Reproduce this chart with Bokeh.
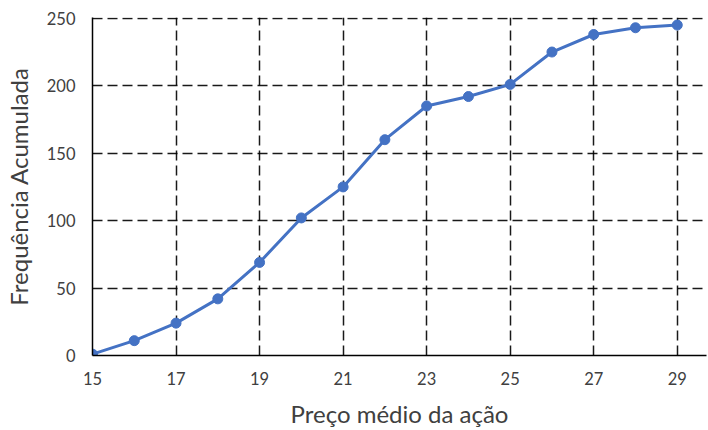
from bokeh.plotting import figure
from bokeh.models import Range1d, FixedTicker
from bokeh.embed import file_html
from bokeh.resources import INLINE

# Preço médio da ação vs. frequência acumulada
precos = [15, 16, 17, 18, 19, 20, 21, 22, 23, 24, 25, 26, 27, 28, 29]
freq_acumulada = [1, 11, 24, 42, 69, 102, 125, 160, 185, 192, 201, 225, 238, 243, 245]
x_ticks = [15, 17, 19, 21, 23, 25, 27, 29]
y_ticks = [0, 50, 100, 150, 200, 250]

FONT = "Lato"
TEXT = "#404040"
BLUE = "#4472C4"

# small headroom so the dashed gridline at 250 is not clipped by the frame
p = figure(width=708, height=430, output_backend="svg", toolbar_location=None,
           x_range=Range1d(15, 29.7), y_range=Range1d(0, 250.6),
           min_border_left=92, min_border_right=2, min_border_top=17, min_border_bottom=75)
p.outline_line_color = None

p.line(precos, freq_acumulada, line_color=BLUE, line_width=3)
p.scatter(precos, freq_acumulada, size=10, fill_color=BLUE, line_color=BLUE)

p.xaxis.ticker = FixedTicker(ticks=x_ticks)
p.yaxis.ticker = FixedTicker(ticks=y_ticks)

for ax in (p.xaxis[0], p.yaxis[0]):
    ax.axis_line_color = "black"
    ax.axis_line_width = 1.5
    ax.major_tick_line_color = None
    ax.minor_tick_line_color = None
    ax.major_tick_out = 0
    ax.major_tick_in = 0
    ax.major_label_text_font = FONT
    ax.major_label_text_font_size = "16.5px"
    ax.major_label_text_color = TEXT
    ax.axis_label_text_font = FONT
    ax.axis_label_text_font_size = "24px"
    ax.axis_label_text_font_style = "normal"
    ax.axis_label_text_color = TEXT

p.xaxis.axis_label = "Preço médio da ação"
p.yaxis.axis_label = "Frequência Acumulada"
p.xaxis.major_label_standoff = 16
p.yaxis.major_label_standoff = 17
p.xaxis.axis_label_standoff = 11
p.yaxis.axis_label_standoff = 11

for g in (p.xgrid[0], p.ygrid[0]):
    g.grid_line_color = "black"
    g.grid_line_width = 1.5
    g.grid_line_dash = "10 5"
    g.grid_line_alpha = 0.9

open("out.html", "w").write(file_html(p, INLINE))
